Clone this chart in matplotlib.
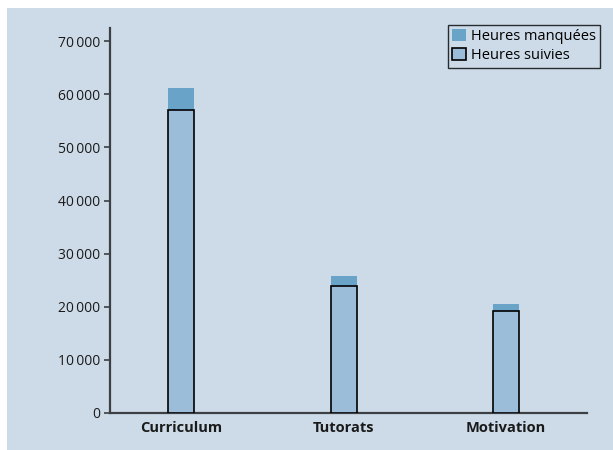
import matplotlib
matplotlib.use("Agg")
import matplotlib.pyplot as plt
from matplotlib.patches import Rectangle
from matplotlib.ticker import FuncFormatter
import numpy as np

categories = ["Curriculum", "Tutorats", "Motivation"]
heures_suivies = [57000, 23900, 19300]
heures_manquees = [4200, 1900, 1300]
yticks = [0, 10000, 20000, 30000, 40000, 50000, 60000, 70000]

plt.rcParams['font.family'] = ['Open Sans', 'DejaVu Sans']

BG = "#cddbe8"
C_MISS = "#6aa3c8"
C_FOLLOW = "#9bbdd9"
SPINE = "#3c3f44"

fig = plt.figure(figsize=(6.13, 4.50), dpi=100, facecolor="white")
fig.patches.append(Rectangle((7/613, 0), 1 - 7/613, 1 - 8/450, transform=fig.transFigure,
                             facecolor=BG, edgecolor="none", zorder=-10))

ax = fig.add_axes([110/613, 37/450, 477/613, 385/450])
ax.set_facecolor(BG)
ax.patch.set_alpha(0)

x = np.arange(len(categories))
w = 0.16
ax.bar(x, heures_manquees, w, bottom=heures_suivies, color=C_MISS, edgecolor="none",
       label="Heures manquées", zorder=2)
ax.bar(x, heures_suivies, w, color=C_FOLLOW, edgecolor="black", linewidth=1.2,
       label="Heures suivies", zorder=3)

ax.set_xlim(-0.437, 2.498)
ax.set_ylim(0, 72500)
ax.set_yticks(yticks)
ax.yaxis.set_major_formatter(FuncFormatter(lambda v, p: f"{int(v):,}".replace(",", "\u2009")))
ax.set_xticks(x)
ax.set_xticklabels(categories, fontweight="bold", fontsize=10.5, color="#1a1a1a")
ax.tick_params(axis="x", length=0, pad=6)
ax.tick_params(axis="y", length=4, width=1.2, color=SPINE, labelsize=10, labelcolor="#1a1a1a", pad=3)

for s in ["top", "right"]:
    ax.spines[s].set_visible(False)
for s in ["left", "bottom"]:
    ax.spines[s].set_color(SPINE)
    ax.spines[s].set_linewidth(1.6)

leg = ax.legend(loc="upper right", bbox_to_anchor=(600/613, 1 - 25/450), bbox_transform=fig.transFigure,
                frameon=True, fancybox=False, fontsize=10.5, handlelength=0.9, handleheight=0.9,
                handletextpad=0.35, borderpad=0.3, labelspacing=0.25, borderaxespad=0)
leg.get_frame().set_edgecolor("black")
leg.get_frame().set_facecolor(BG)
leg.get_frame().set_linewidth(1.0)

fig.savefig("out.png", dpi=100, facecolor="white")
